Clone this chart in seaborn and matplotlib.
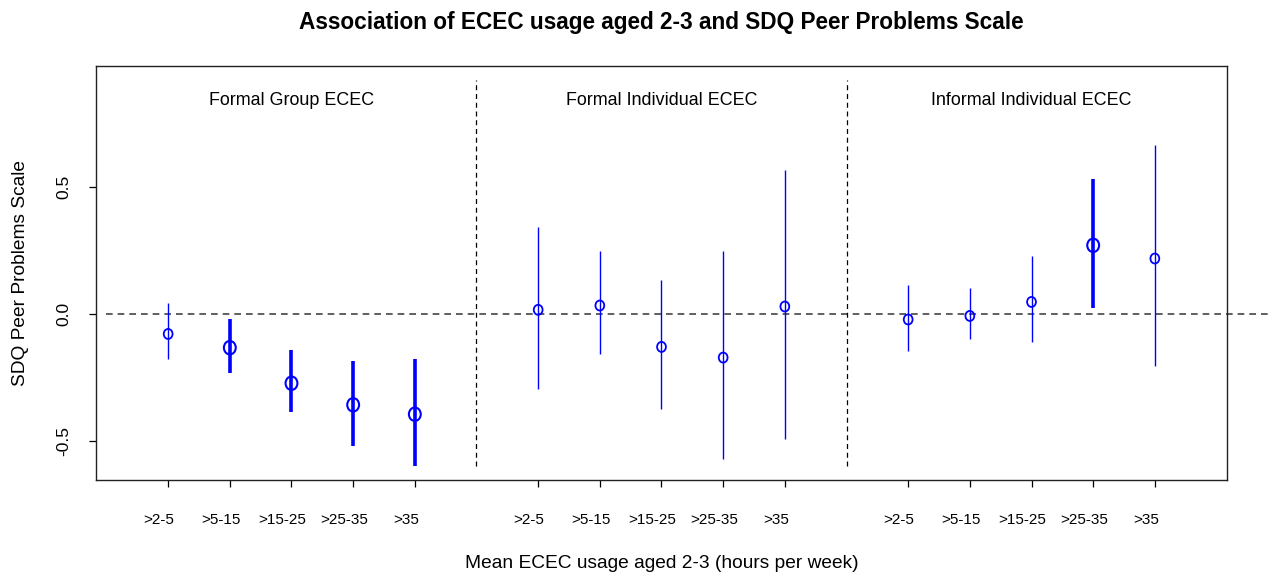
import numpy as np
import pandas as pd
import matplotlib
matplotlib.use("Agg")
import matplotlib.pyplot as plt
from matplotlib.path import Path
from matplotlib.transforms import ScaledTranslation
import seaborn as sns

# Estimates with 95% confidence intervals, by ECEC type and weekly hours band
groups = ["Formal Group ECEC", "Formal Individual ECEC", "Informal Individual ECEC"]
hour_bands = [">2-5", ">5-15", ">15-25", ">25-35", ">35"]

formal_group_est = [-0.079, -0.133, -0.273, -0.358, -0.395]
formal_group_lo = [-0.178, -0.234, -0.385, -0.520, -0.598]
formal_group_hi = [0.044, -0.020, -0.142, -0.184, -0.176]

formal_indiv_est = [0.016, 0.033, -0.130, -0.172, 0.029]
formal_indiv_lo = [-0.296, -0.159, -0.375, -0.572, -0.493]
formal_indiv_hi = [0.344, 0.249, 0.133, 0.249, 0.567]

informal_indiv_est = [-0.022, -0.008, 0.047, 0.270, 0.218]
informal_indiv_lo = [-0.146, -0.100, -0.112, 0.025, -0.207]
informal_indiv_hi = [0.114, 0.100, 0.226, 0.530, 0.664]

ests = [formal_group_est, formal_indiv_est, informal_indiv_est]
los = [formal_group_lo, formal_indiv_lo, informal_indiv_lo]
his = [formal_group_hi, formal_indiv_hi, informal_indiv_hi]

rows = []
for g, (name, e, lo, hi) in enumerate(zip(groups, ests, los, his)):
    for k, band in enumerate(hour_bands):
        rows.append({"group": name, "band": band, "pos": 1 + g * 6 + k,
                     "est": e[k], "lo": lo[k], "hi": hi[k]})
df = pd.DataFrame(rows)
df["significant"] = (df["lo"] > 0) | (df["hi"] < 0)

sns.set_theme(style="white")
plt.rcParams["font.family"] = ["Liberation Sans", "DejaVu Sans"]
plt.rcParams["text.color"] = "black"
plt.rcParams["xtick.color"] = "black"
plt.rcParams["ytick.color"] = "black"

fig = plt.figure(figsize=(12.7, 5.73), dpi=100)
ax = fig.add_axes([96 / 1270, 1 - 480 / 573, (1227 - 96) / 1270, (480 - 66) / 573])

blue = "#0000FF"
# slightly tall open circle, like a printed "o"
circ = Path.unit_circle()
oval = Path(circ.vertices * np.array([0.88, 1.0]), circ.codes)

sig = df[df["significant"]]
nonsig = df[~df["significant"]]

ax.vlines(nonsig["pos"], nonsig["lo"], nonsig["hi"], color=blue, lw=1.0, zorder=3)
ax.vlines(sig["pos"], sig["lo"], sig["hi"], color=blue, lw=2.6, zorder=3)

sns.scatterplot(data=nonsig, x="pos", y="est", ax=ax, marker=oval, s=52,
                facecolor="none", edgecolor=blue, linewidth=1.3, zorder=4)
sns.scatterplot(data=sig, x="pos", y="est", ax=ax, marker=oval, s=94,
                facecolor="none", edgecolor=blue, linewidth=1.5, zorder=4)

# reference line at zero and panel separators
ax.plot([0, 19], [0, 0], ls=(0, (4, 3)), color="#444444", lw=1.2,
        clip_on=False, zorder=2)
for sep in [6, 12]:
    ax.plot([sep, sep], [-0.6, 0.92], ls=(0, (4, 3)), color="black", lw=0.9, zorder=2)

for g, name in enumerate(groups):
    ax.text(3 + g * 6, 0.839, name, ha="center", va="center", fontsize=12.9)

ax.set_xlim(-0.17, 18.17)
ax.set_ylim(-0.654, 0.976)
ax.set_xticks(df["pos"])
ax.set_xticklabels(df["band"], fontsize=11)
ax.set_yticks([-0.5, 0.0, 0.5])
ax.set_yticklabels(["-0.5", "0.0", "0.5"], rotation=90, va="center", fontsize=12.5)
ax.tick_params(axis="x", bottom=True, length=5, width=0.9, pad=19)
ax.tick_params(axis="y", left=True, length=5, width=0.9, pad=13)
shift = ScaledTranslation(-9 / 100, 0, fig.dpi_scale_trans)
for lbl in ax.get_xticklabels():
    lbl.set_transform(lbl.get_transform() + shift)
ax.set_xlabel("")
ax.set_ylabel("")
for sp in ax.spines.values():
    sp.set_color("#222222")
    sp.set_linewidth(1.0)
if ax.get_legend() is not None:
    ax.get_legend().remove()

fig.text(0.5 * (96 + 1227) / 1270, 1 - 563 / 573,
         "Mean ECEC usage aged 2-3 (hours per week)", ha="center", va="center", fontsize=13.8)
fig.text(21 / 1270, 1 - 273 / 573, "SDQ Peer Problems Scale", rotation=90,
         ha="center", va="center", fontsize=13.8)
fig.text(0.5 * (96 + 1227) / 1270, 1 - 22 / 573,
         "Association of ECEC usage aged 2-3 and SDQ Peer Problems Scale",
         ha="center", va="center", fontsize=16.3, fontweight="bold")

fig.savefig("out.png", dpi=100)
